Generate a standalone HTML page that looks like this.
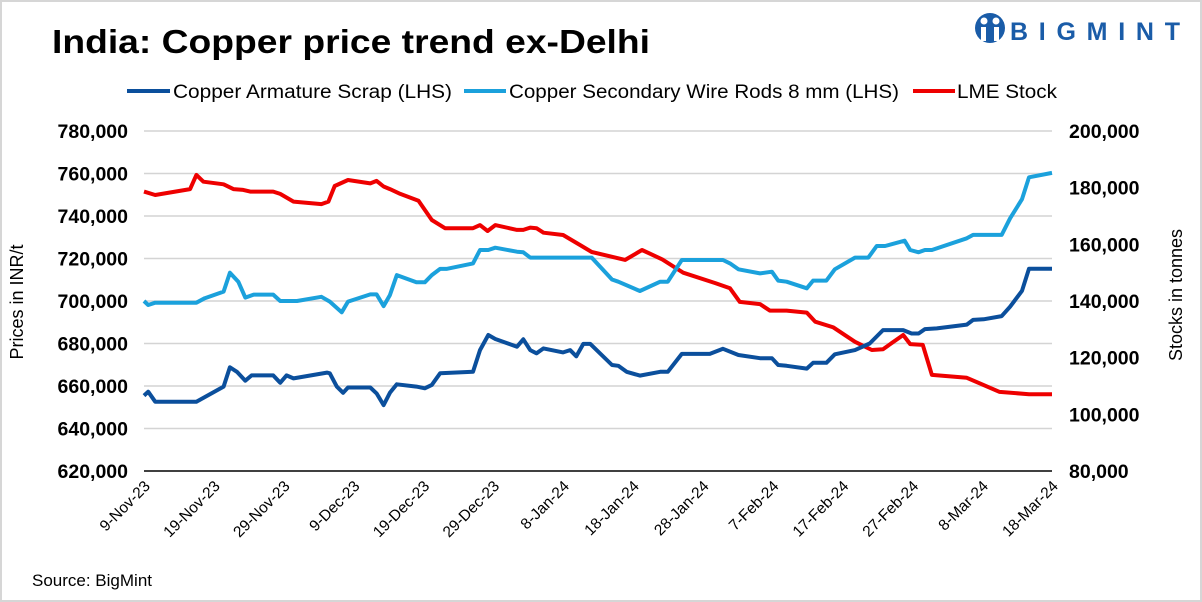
<!DOCTYPE html>
<html><head><meta charset="utf-8"><style>
body{margin:0;background:#fff;}
#wrap{position:relative;width:1202px;height:602px;box-sizing:border-box;border:2px solid #d6d6d6;background:#fff;font-family:"Liberation Sans",sans-serif;overflow:hidden}
</style></head><body>
<div id="wrap">
<svg id="svg" width="1202" height="602" viewBox="0 0 1202 602" style="position:absolute;left:-2px;top:-2px">
<text x="52" y="53" font-size="33" font-weight="bold" fill="#000" textLength="598" lengthAdjust="spacingAndGlyphs">India: Copper price trend ex-Delhi</text>
<g>
<circle cx="990" cy="28" r="15" fill="#1a5ca8"/>
<circle cx="984" cy="21" r="3.5" fill="#fff"/><circle cx="996" cy="21" r="3.5" fill="#fff"/>
<rect x="981" y="27" width="5" height="14" fill="#fff"/><rect x="994" y="27" width="5" height="14" fill="#fff"/>
<text x="1010" y="40" font-size="25" font-weight="bold" fill="#1a5ca8" textLength="170" lengthAdjust="spacing">BIGMINT</text>
</g>
<g id="legend" font-size="19" fill="#000">
<g><line x1="127" y1="91" x2="170" y2="91" stroke="#0b4f9c" stroke-width="4"/><text x="173" y="98" textLength="279" lengthAdjust="spacingAndGlyphs">Copper Armature Scrap (LHS)</text></g>
<g><line x1="464" y1="91" x2="506" y2="91" stroke="#1ba1dc" stroke-width="4"/><text x="509" y="98" textLength="390" lengthAdjust="spacingAndGlyphs">Copper Secondary Wire Rods 8 mm (LHS)</text></g>
<g><line x1="913" y1="91" x2="955" y2="91" stroke="#ee0000" stroke-width="4"/><text x="957" y="98" textLength="100" lengthAdjust="spacingAndGlyphs">LME Stock</text></g>
</g>
<text x="0" y="0" font-size="18" transform="translate(23,302) rotate(-90)" text-anchor="middle">Prices in INR/t</text>
<text x="0" y="0" font-size="18" transform="translate(1182,295) rotate(-90)" text-anchor="middle">Stocks in tonnes</text>
<text x="32" y="586" font-size="17">Source: BigMint</text>
<g id="grid"></g><g id="axes"></g><g id="series"></g>
</svg>
</div>
<script>
const xTickLabels=["9-Nov-23","19-Nov-23","29-Nov-23","9-Dec-23","19-Dec-23","29-Dec-23","8-Jan-24","18-Jan-24","28-Jan-24","7-Feb-24","17-Feb-24","27-Feb-24","8-Mar-24","18-Mar-24"];
const leftTicks=[620000,640000,660000,680000,700000,720000,740000,760000,780000];
const rightTicks=[80000,100000,120000,140000,160000,180000,200000];
const armatureDays=[0,0.6,1.6,7.5,11.4,12.3,13.3,14.5,15.4,18.5,19.5,20.4,21.4,26.2,26.6,27.6,28.5,29.2,32.4,33.3,34.3,35.2,36.2,39.0,40.2,41.2,42.4,47.1,48.1,49.3,50.3,53.4,54.3,55.3,56.2,57.2,60.0,61.0,61.9,62.9,63.9,67.0,67.9,69.1,71.0,73.9,75.0,77.0,81.0,82.9,85.1,88.2,89.9,90.8,92.0,94.9,95.8,97.7,98.9,101.8,103.9,105.8,108.7,109.9,110.9,111.8,113.5,117.8,118.7,120.2,122.8,124.0,125.7,126.7,130];
const armatureVals=[655.5,657.3,652.6,652.6,659.7,668.8,666.7,662.5,665,665,661.5,665,663.6,666.3,666,659.7,656.8,659.3,659.3,656.5,651,656.8,660.8,659.7,658.9,660.5,666,666.7,676.9,684,682.1,678.5,682,676.9,675.4,677.7,675.8,676.9,674,679.8,679.8,669.9,669.5,666.7,664.9,666.7,666.7,675.1,675.1,677.5,674.6,673.1,673.1,669.9,669.5,668.2,670.9,670.9,674.9,676.9,680,686.3,686.3,684.7,684.7,686.8,687.1,688.9,691.1,691.4,692.9,697.3,704.8,715.2,715.2];
const wireDays=[0,0.6,1.6,7.5,8.7,11.4,12.3,13.5,14.5,15.7,18.5,19.5,21.9,25.4,26.6,28.3,29.2,32.4,33.3,34.3,35.2,36.2,39.0,40.2,41.2,42.4,43.3,47.1,48.1,49.3,50.3,53.4,54.3,55.3,62.4,64.1,67.0,67.9,71.0,73.9,75.0,77.0,82.9,83.9,85.1,88.2,89.9,90.8,92.0,94.9,95.8,97.7,98.9,101.8,103.7,104.9,106.1,108.9,109.7,110.9,111.8,112.8,117.8,118.7,122.8,124.0,125.7,126.7,130];
const wireVals=[700,698.1,699.2,699.2,701.3,704.4,713.3,709.1,701.6,703,703,700,700,702,699.7,694.7,699.7,703.1,703.1,697.6,702.8,712.2,708.8,708.8,712.2,715.1,715.1,717.7,724,724,725.1,723.2,722.9,720.4,720.4,720.4,710.1,709.1,704.7,709.1,709.1,719.3,719.3,717.7,714.9,713,713.8,709.6,709.1,706,709.6,709.6,714.9,720.4,720.4,725.9,725.9,728.4,724,722.9,724,724,729.5,731.1,731.1,738.9,747.9,758.2,760.3];
const lmeDays=[0,1.6,6.6,7.5,8.5,11.4,12.8,14.2,15.2,18.5,19.5,21.4,25.4,26.4,27.3,29.2,32.4,33.3,34.3,35.2,36.7,39.3,41.2,43.1,47.1,48.1,49.2,50.3,53.4,54.3,55.3,56.2,57.2,60.0,62.4,64.1,68.9,71.3,74.2,77.2,81.8,83.9,85.3,88.2,89.6,92.0,94.9,96.1,98.7,101.8,104.2,105.8,108.7,109.7,111.5,112.8,117.8,122.5,126.7,130];
const lmeVals=[178.6,177.4,179.5,184.5,182.1,181.2,179.5,179.2,178.6,178.6,177.8,175.1,174.2,175.1,180.6,182.7,181.5,182.4,180.4,179.5,177.8,175.4,168.6,165.7,165.7,166.8,164.7,166.8,165.1,165.1,165.9,165.7,164.1,163.3,159.8,157.3,154.5,158,154.7,150,146.3,144.5,139.7,138.9,136.6,136.6,135.9,132.7,130.7,125.6,122.7,123,128,124.8,124.5,113.9,112.9,107.9,107.1,107.1].map(v=>v*1000);
</script>
<script>
const NS="http://www.w3.org/2000/svg";
const X0=144,X1=1052,Y0=471,Y1=131;
const xs=d=>X0+d*(X1-X0)/130;
const yl=v=>Y0-(v-620000)*(Y0-Y1)/160000;
const yr=v=>Y0-(v-80000)*(Y0-Y1)/120000;
function mk(t,a,p){const e=document.createElementNS(NS,t);for(const k in a)e.setAttribute(k,a[k]);p.appendChild(e);return e;}
const grid=document.getElementById('grid'),axes=document.getElementById('axes'),ser=document.getElementById('series');
leftTicks.forEach((v,i)=>{
 if(i>0){const g=mk('line',{x1:X0,x2:X1,y1:yl(v),y2:yl(v),stroke:'#d4d4d4','stroke-width':1.5},grid);
 
 }
 const t=mk('text',{x:128,y:yl(v)+7,'text-anchor':'end','font-size':19.5,'font-weight':'bold'},axes);t.textContent=v.toLocaleString('en-US');
 
 
});
rightTicks.forEach(v=>{
 const t=mk('text',{x:1069,y:yr(v)+7,'font-size':19.5,'font-weight':'bold'},axes);t.textContent=v.toLocaleString('en-US');
 
 
});
const ax=mk('line',{x1:X0,x2:X1,y1:Y0,y2:Y0,stroke:'#000','stroke-width':1.5},axes);


xTickLabels.forEach((s,i)=>{
 const x=xs(i*10);
 const t=mk('text',{x:0,y:0,'text-anchor':'end','font-size':15.5,transform:`translate(${x+7},${Y0+16}) rotate(-45)`},axes);t.textContent=s;
 
 
});
function line(days,vals,sc,col,name){
 const pts=days.map((d,i)=>xs(d).toFixed(1)+','+sc(vals[i]).toFixed(1)).join(' ');
 const p=mk('polyline',{points:pts,fill:'none',stroke:col,'stroke-width':4,'stroke-linejoin':'round'},ser);
 
 
}
line(lmeDays,lmeVals,yr,'#ee0000','lme-stock-line');
line(wireDays,wireVals.map(v=>v*1000),yl,'#1ba1dc','wire-rods-line');
line(armatureDays,armatureVals.map(v=>v*1000),yl,'#0b4f9c','armature-scrap-line');
</script>
</body></html>
